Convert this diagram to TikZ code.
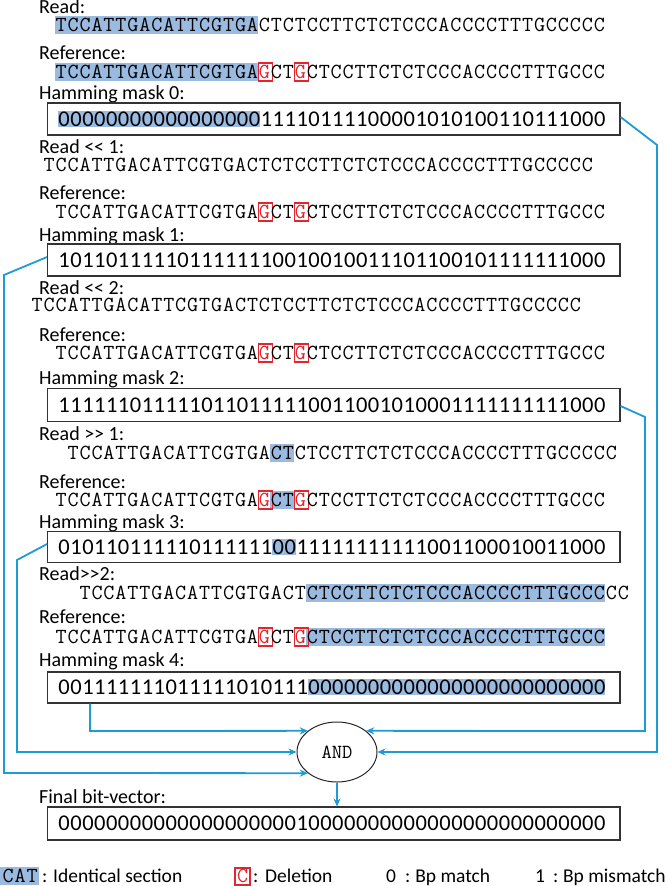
\documentclass[tikz,border=0pt]{standalone}
\usepackage{fontspec}
\setmainfont{Carlito}
\usetikzlibrary{arrows.meta,shapes.geometric}
\definecolor{hlblue}{RGB}{155,186,224}
\definecolor{conblue}{RGB}{30,154,214}
\definecolor{delred}{RGB}{226,38,48}
\newdimen\cellw
\def\spreadchars#1{\spreadA#1\relax}
\def\spreadA#1{\ifx#1\relax\else\makebox[\cellw]{#1}\expandafter\spreadA\fi}
\newcommand\seqtext[1]{{\ttfamily\fontsize{21.5}{22}\selectfont\cellw=11.96pt\spreadchars{#1}}}
\newcommand\bittext[1]{{\fontsize{22.5}{23}\selectfont\cellw=11.9pt\spreadchars{#1}}}
\newcommand\refseq{\seqtext{TCCATTGACATTCGTGA}\textcolor{delred}{\seqtext{G}}\seqtext{CT}\textcolor{delred}{\seqtext{G}}\seqtext{CTCCTTCTCTCCCACCCCTTTGCCC}}
\newcommand\readseq{\seqtext{TCCATTGACATTCGTGACTCTCCTTCTCTCCCACCCCTTTGCCCCC}}
\tikzset{
  lbl/.style={anchor=base west, inner sep=0pt, font=\fontsize{20}{22}\selectfont},
  leg/.style={anchor=base west, inner sep=0pt, font=\fontsize{19.5}{21}\selectfont},
  seq/.style={anchor=base west, inner sep=0pt},
  bits/.style={anchor=base west, inner sep=0pt},
  maskbox/.style={draw=black!80, line width=1.1pt, minimum width=572.4pt, minimum height=32pt, inner sep=0pt},
  hl/.style={fill=hlblue},
  conn/.style={draw=conblue, line width=1.8pt, -{Stealth[length=8pt,width=7pt]}},
  delbox/.style={draw=delred, line width=1.4pt}
}
\begin{document}
\begin{tikzpicture}[x=1pt,y=-1pt]
\useasboundingbox (0,0) rectangle (666,886);
% ---------- block 0
\fill[hlblue] (55,16) rectangle (258.3,34);
\fill[hlblue] (55,63) rectangle (258.3,81);
\fill[hlblue] (58,111) rectangle (260.3,127);
\node[lbl] (l0r) at (39,13.5) {Read:};
\node[seq] (s0r) at (55,31.5) {\readseq};
\node[lbl] (l0f) at (39,59) {Reference:};
\draw[delbox] (258.3,63) rectangle (272.5,81);
\draw[delbox] (294.2,63) rectangle (308.5,81);
\node[seq] (s0f) at (55,78.5) {\refseq};
\node[lbl] (l0h) at (39,99) {Hamming mask 0:};
\node[maskbox] (m0) at (333.8,119) {};
\node[bits] (b0) at (58,126.2) {\bittext{0000000000000000011110111100001010100110111000}};
% ---------- block 1
\node[lbl] (l1r) at (39,153.5) {Read <{}< 1:};
\node[seq] (s1r) at (43.04,171.5) {\readseq};
\node[lbl] (l1f) at (39,199) {Reference:};
\draw[delbox] (258.3,203) rectangle (272.5,221);
\draw[delbox] (294.2,203) rectangle (308.5,221);
\node[seq] (s1f) at (55,218.5) {\refseq};
\node[lbl] (l1h) at (39,241) {Hamming mask 1:};
\node[maskbox] (m1) at (333.8,260) {};
\node[bits] (b1) at (58,267.2) {\bittext{1011011111011111110010010011101100101111111000}};
% ---------- block 2
\node[lbl] (l2r) at (39,294.5) {Read <{}< 2:};
\node[seq] (s2r) at (31.08,311.5) {\readseq};
\node[lbl] (l2f) at (39,341) {Reference:};
\draw[delbox] (258.3,344) rectangle (272.5,362);
\draw[delbox] (294.2,344) rectangle (308.5,362);
\node[seq] (s2f) at (55,359.5) {\refseq};
\node[lbl] (l2h) at (39,384) {Hamming mask 2:};
\node[maskbox, minimum height=33pt] (m2) at (333.8,405) {};
\node[bits] (b2) at (58,412.2) {\bittext{1111110111110110111110011001010001111111111000}};
% ---------- block 3
\fill[hlblue] (270.3,444) rectangle (294.2,462);
\fill[hlblue] (270.3,491) rectangle (294.2,509);
\fill[hlblue] (272.2,539) rectangle (296,555);
\node[lbl] (l3r) at (39,440.5) {Read >{}> 1:};
\node[seq] (s3r) at (66.96,459.5) {\readseq};
\node[lbl] (l3f) at (39,488) {Reference:};
\draw[delbox] (258.3,491) rectangle (272.5,509);
\draw[delbox] (294.2,491) rectangle (308.5,509);
\node[seq] (s3f) at (55,506.5) {\refseq};
\node[lbl] (l3h) at (39,528) {Hamming mask 3:};
\node[maskbox, minimum height=31pt] (m3) at (333.8,547) {};
\node[bits] (b3) at (58,554.2) {\bittext{0101101111101111110011111111111001100010011000}};
% ---------- block 4
\fill[hlblue] (306.2,584) rectangle (605.2,602);
\fill[hlblue] (306.2,628) rectangle (605.2,646);
\fill[hlblue] (307.9,679) rectangle (605.4,695);
\node[lbl] (l4r) at (39,580.5) {Read>{}>2:};
\node[seq] (s4r) at (78.92,599.5) {\readseq};
\node[lbl] (l4f) at (39,623) {Reference:};
\draw[delbox] (258.3,628) rectangle (272.5,646);
\draw[delbox] (294.2,628) rectangle (308.5,646);
\node[seq] (s4f) at (55,643.5) {\refseq};
\node[lbl] (l4h) at (39,666) {Hamming mask 4:};
\node[maskbox, minimum height=31pt] (m4) at (333.8,687.5) {};
\node[bits] (b4) at (58,694.7) {\bittext{0011111110111110101110000000000000000000000000}};
% ---------- AND and final
\node[draw=black!85, line width=1pt, ellipse, minimum width=80pt, minimum height=60pt, inner sep=0pt] (and) at (337,752) {\ttfamily\fontsize{20}{22}\selectfont AND};
\node[lbl] (lfin) at (39,803) {Final bit-vector:};
\node[maskbox, minimum height=33pt] (fin) at (333.8,823.5) {};
\node[bits] (bfin) at (58,830.7) {\bittext{0000000000000000000010000000000000000000000000}};
% ---------- connectors
\coordinate (k0a) at (657,145);
\coordinate (k0b) at (657,752);
\coordinate (k2a) at (645,417);
\coordinate (k2b) at (645,731);
\coordinate (k1a) at (4,275);
\coordinate (k1b) at (4,773);
\coordinate (k3a) at (17,560);
\coordinate (k3b) at (17,752);
\coordinate (k4b) at (90,731);
\draw[conn] ([yshift=2pt]m0.east) -- (k0a) -- (k0b) -- (and.east);
\draw[conn] ([yshift=-1pt]m2.east) -- (k2a) -- (k2b) -- (and.36);
\draw[conn] ([yshift=3pt]m1.west) -- (k1a) -- (k1b) -- (and.216);
\draw[conn] ([yshift=3pt]m3.west) -- (k3a) -- (k3b) -- (and.west);
\draw[conn] (m4.south -| k4b) -- (k4b) -- (and.144);
\draw[conn] (and.south) -- (and.south |- fin.north);
% ---------- legend
\fill[hlblue] (0,867) rectangle (39,885);
\node[seq] (lgcat) at (2,882.5) {\seqtext{CAT}};
\node[leg] (lgid) at (42,882) {:\hspace{5.8pt}Identical section};
\draw[delbox] (235,868) rectangle (250,885);
\node[seq] (lgc) at (236.5,882.5) {\textcolor{delred}{\seqtext{C}}};
\node[leg] (lgdel) at (253,882) {:\hspace{6.8pt}Deletion};
\node[leg] (lgm) at (386,882) {0\hspace{9pt}:\hspace{5pt}Bp match};
\node[leg] (lgmm) at (535,882) {1\hspace{8pt}:\hspace{4.8pt}Bp mismatch};
\end{tikzpicture}
\end{document}
